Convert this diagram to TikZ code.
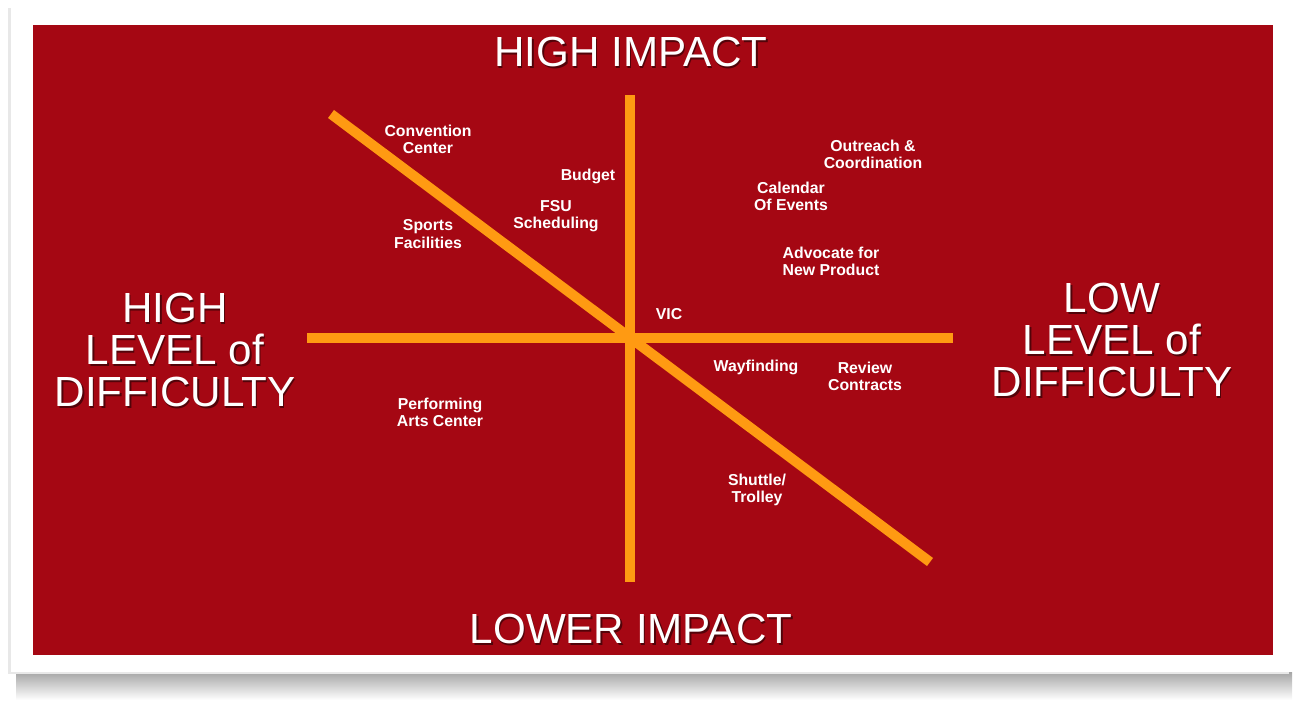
\documentclass[tikz,border=0pt]{standalone}
\usepackage{fontspec}
\setmainfont{Liberation Sans}
\definecolor{boardred}{HTML}{A50713}
\definecolor{axisorange}{HTML}{FF9A12}

\tikzset{
    axisline/.style={axisorange, line width=5.7pt},
    tag/.style={text=white, font=\bfseries\fontsize{9}{9.8}\selectfont,
        align=center, inner sep=0pt},
    bigtag/.style={text=white, font=\fontsize{24}{24}\selectfont,
        align=center, inner sep=0pt},
    bigshadow/.style={bigtag, text=black, opacity=0.5}
}

% big heading with a soft drop shadow
\newcommand{\headlabel}[4]{%
    \node[bigshadow] at (#2+1.5,#3+2) {#4};
    \node[bigtag] (#1) at (#2,#3) {#4};
}

\begin{document}
\begin{tikzpicture}[x=0.02cm, y=-0.02cm]
    \useasboundingbox (0,0) rectangle (1294,702);

    % Draw the card and its shadow
    \shade[top color=gray!70, bottom color=white] (16,672) rectangle (1292,700);
    \fill[gray!18] (8,8) rectangle (1289,674);
    \fill[white] (11,5) rectangle (1290,672);
    \fill[boardred] (33,25) rectangle (1273,655);

    % Draw the axes
    \coordinate (top) at (630,95);
    \coordinate (bottom) at (630,582);
    \coordinate (left) at (307,338);
    \coordinate (right) at (953,338);
    \coordinate (nw) at (331,114);
    \coordinate (se) at (930,562);
    \draw[axisline] (top) -- (bottom);
    \draw[axisline] (left) -- (right);
    \draw[axisline] (nw) -- (se);

    % Axis headings
    \headlabel{himpact}{631}{52}{HIGH IMPACT}
    \headlabel{limpact}{631}{629}{LOWER IMPACT}
    \headlabel{hdiff}{175}{350}{HIGH\\LEVEL of\\DIFFICULTY}
    \headlabel{ldiff}{1112}{340}{LOW\\LEVEL of\\DIFFICULTY}

    % Project labels
    \foreach \x/\y/\name/\txt in {
        428/139/conv/{Convention\\Center},
        588/176/budget/{Budget},
        556/216/fsu/{FSU\\Scheduling},
        428/234/sports/{Sports\\Facilities},
        873/154/outreach/{Outreach \&\\Coordination},
        791/196/calendar/{Calendar\\Of Events},
        831/261/advocate/{Advocate for\\New Product},
        669/314/vic/{VIC},
        756/367/wayf/{Wayfinding},
        865/376/review/{Review\\Contracts},
        440/412/perf/{Performing\\Arts Center},
        757/490/shuttle/{Shuttle/\\Trolley}}
        \node[tag] (\name) at (\x,\y) {\txt};
\end{tikzpicture}
\end{document}
